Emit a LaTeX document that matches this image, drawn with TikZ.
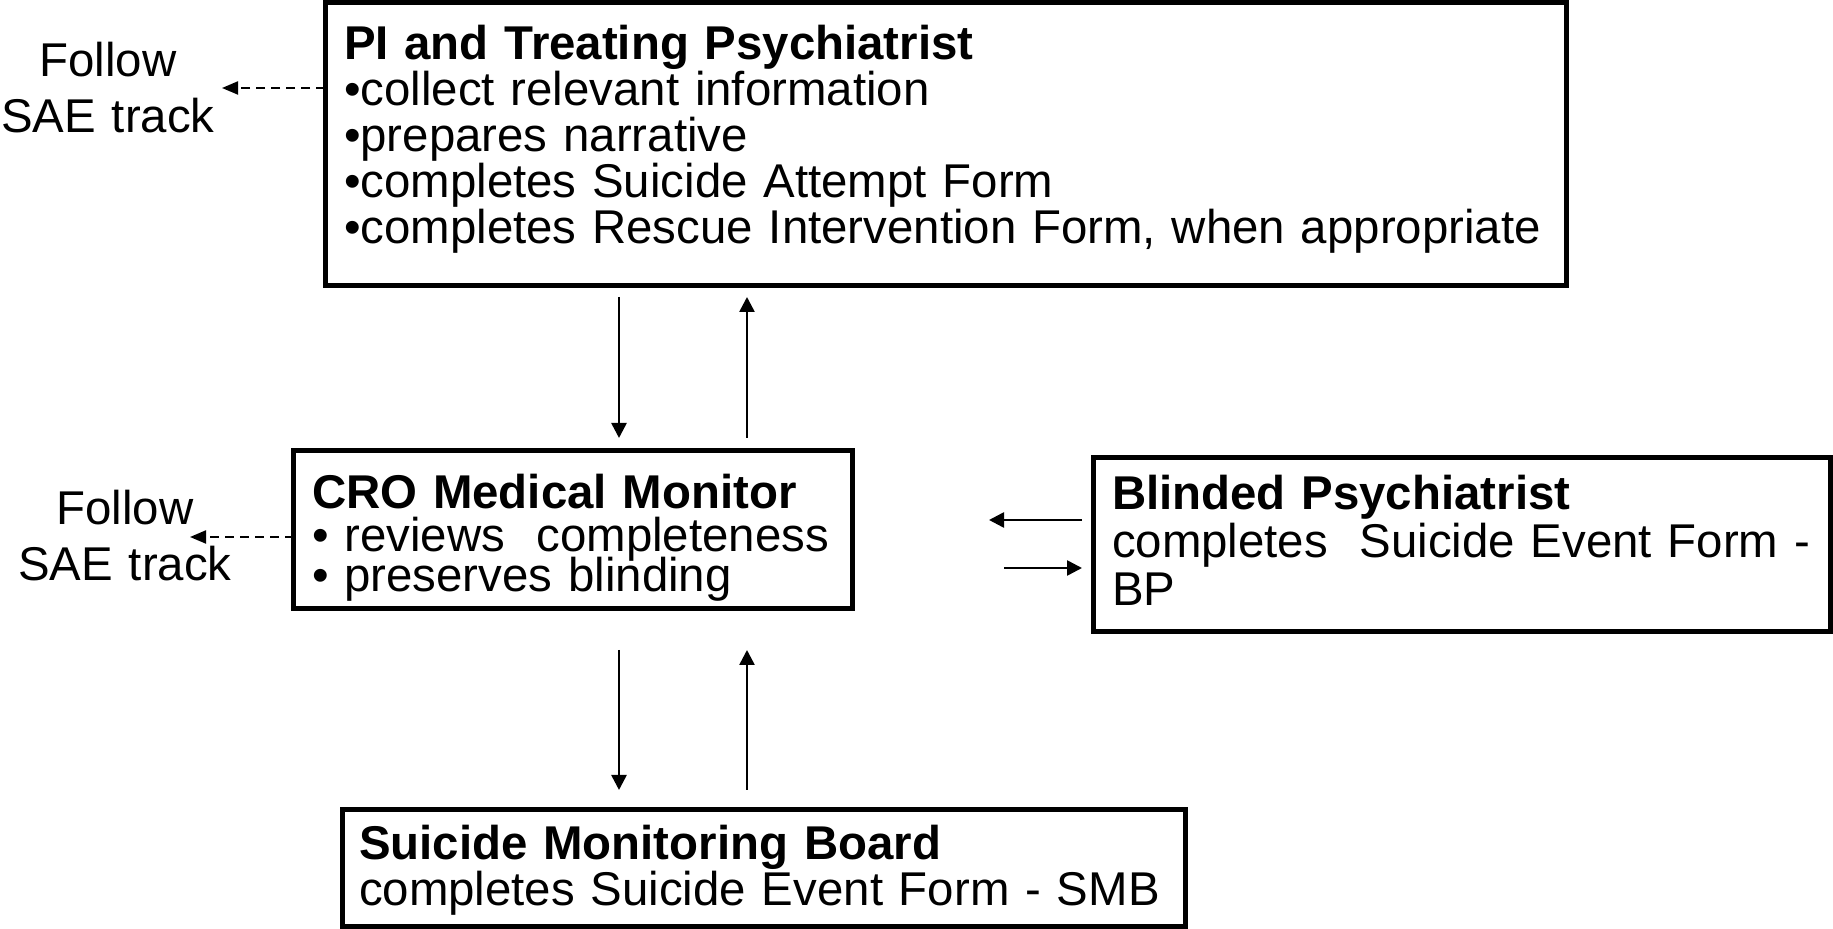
\documentclass[tikz,border=0pt]{standalone}
\usepackage{fontspec}
\setmainfont{Liberation Sans}
\usetikzlibrary{arrows.meta}
\begin{document}
\lineskiplimit=-40pt
\normallineskiplimit=-40pt
\begin{tikzpicture}[x=0.5pt,y=-0.5pt,
  box/.style={draw, line width=2.5pt, outer sep=0pt, inner ysep=0pt, anchor=north west, align=left},
  fnt/.style={font={\fontsize{23.7pt}{#1}\selectfont}},
  arr/.style={line width=1.3pt, -{Triangle[length=7.5pt,width=7.5pt]}},
  dsh/.style={line width=1pt, dash pattern=on 4.5pt off 3pt, -{Triangle[length=8pt,width=6.5pt]}},
  lbl/.style={inner sep=0pt, text width=120pt, align=center, anchor=base, fnt=28pt}]
\useasboundingbox (0,0) rectangle (1833,929);

\node[box, fnt=23pt, inner xsep=9.5pt, text width=601.5pt, text height=28.75pt, text depth=113pt] (pi) at (325,2.5)
  {\mbox{\bfseries PI and Treating Psychiatrist}\\
   \mbox{•collect relevant information}\\
   \mbox{•prepares narrative}\\
   \mbox{•completes Suicide Attempt Form}\\
   \mbox{•completes Rescue Intervention Form, when appropriate}};

\node[box, fnt=20pt, inner xsep=9.25pt, text width=260.75pt, text height=29pt, text depth=50pt] (cro) at (293.5,450.5)
  {\mbox{\bfseries CRO Medical Monitor}\\[1.5pt]
   \mbox{• reviews~ completeness}\\
   \mbox{• preserves blinding}};

\node[box, fnt=24pt, inner xsep=9.5pt, text width=349.75pt, text height=26pt, text depth=61pt] (bp) at (1093,458)
  {\mbox{\bfseries Blinded Psychiatrist}\\
   \mbox{completes~ Suicide Event Form -}\\
   \mbox{BP}};

\node[box, fnt=23pt, inner xsep=8.5pt, text width=404.5pt, text height=25pt, text depth=33.25pt] (smb) at (342,810)
  {\mbox{\bfseries Suicide Monitoring Board}\\
   \mbox{completes Suicide Event Form - SMB}};

\node[lbl] (f1) at (108,77) {Follow\\SAE track};
\node[lbl] (f2) at (125,525) {Follow\\SAE track};

\coordinate (t1) at (222,88);
\coordinate (t2) at (190,537);
\coordinate (xL) at (619,0);
\coordinate (xR) at (747,0);
\coordinate (yA) at (0,520);
\coordinate (yB) at (0,568);

\draw[dsh] (pi.west |- t1) -- (t1);
\draw[dsh] (cro.west |- t2) -- (t2);
\draw[arr, shorten <=5.5pt, shorten >=6.25pt] (pi.south -| xL) -- (cro.north -| xL);
\draw[arr, shorten <=6.25pt, shorten >=5.5pt] (cro.north -| xR) -- (pi.south -| xR);
\draw[arr, shorten <=20.75pt, shorten >=10pt] (cro.south -| xL) -- (smb.north -| xL);
\draw[arr, shorten <=10pt, shorten >=20.75pt] (smb.north -| xR) -- (cro.south -| xR);
\draw[arr, shorten <=5.5pt, shorten >=68.5pt] (bp.west |- yA) -- (cro.east |- yA);
\draw[arr, shorten <=76pt, shorten >=5.5pt] (cro.east |- yB) -- (bp.west |- yB);
\end{tikzpicture}
\end{document}
